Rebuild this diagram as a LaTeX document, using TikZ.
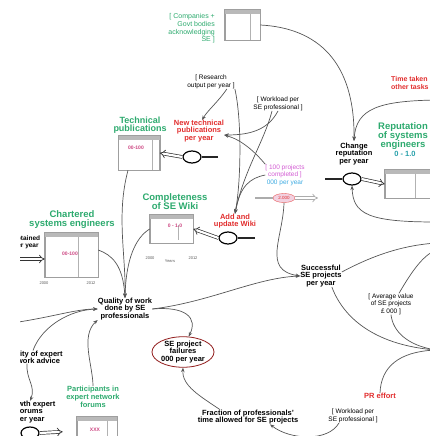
\documentclass[tikz,border=0pt]{standalone}
\usepackage{fontspec}
\setmainfont{Liberation Sans}
\usetikzlibrary{arrows.meta,shapes.geometric}
\definecolor{sdgreen}{RGB}{45,170,110}
\definecolor{sdred}{RGB}{225,45,45}
\definecolor{sdpink}{RGB}{205,70,130}
\definecolor{sdmag}{RGB}{210,90,210}
\definecolor{sdcyan}{RGB}{60,170,225}
\definecolor{sdteal}{RGB}{40,160,170}
\definecolor{lk}{RGB}{85,85,85}
\begin{document}
\begin{tikzpicture}[x=1pt,y=-1pt,
  lab/.style={font=\fontsize{7.5}{7.3}\selectfont\bfseries, align=center, inner sep=0pt},
  rlab/.style={lab, text=sdred},
  klab/.style={font=\fontsize{6.5}{7.5}\selectfont, align=center, inner sep=0pt},
  glab/.style={font=\fontsize{9.5}{9}\selectfont\bfseries, align=center, inner sep=0pt, text=sdgreen},
  numtxt/.style={font=\fontsize{5}{5}\selectfont\bfseries, text=sdpink, inner sep=0pt},
  ticktxt/.style={font=\fontsize{4}{4}\selectfont, text=gray!70!black, inner sep=0pt},
  stockbox/.style={draw=gray!75, fill=white, line width=0.6pt, inner sep=0pt},
  valve/.style={ellipse, draw=black, line width=1.2pt, fill=white, minimum width=18pt, minimum height=12pt, inner sep=0pt},
  link/.style={draw=lk, line width=0.7pt, -{Stealth[length=4.5pt,width=3.5pt]}},
  pipe/.style={draw=black!85, line width=1.4pt},
  flowin/.style={draw=black!80, double=white, double distance=2.2pt, line width=0.7pt, -{Implies}},
]
\useasboundingbox (0,0) rectangle (430,436);
\clip (20,0) rectangle (430,436);

% ---------- coordinates for off-picture ends ----------
\coordinate (ttc) at (436,100);
\coordinate (rpo) at (436,222);
\coordinate (chs) at (325,179);
\coordinate (pvs) at (255,198);
\coordinate (pve) at (318,198);
\coordinate (cv) at (436,350);
\coordinate (avr) at (436,250);
\coordinate (sr) at (436,243);
\coordinate (nts) at (218,157);
\coordinate (aws) at (255,238);
\coordinate (cis) at (5,259);
\coordinate (lft) at (5,324);
\coordinate (gvs) at (5,433);

% ---------- nodes ----------
\node[klab, text=sdgreen, anchor=east, align=right, font=\fontsize{7}{7.7}\selectfont] (comp) at (215,28.5) {[ Companies +\\Govt bodies\\acknowledging\\SE ]};
\node[stockbox, minimum width=35pt, minimum height=30pt] (compb) at (242.5,25) {};

\node[rlab, font=\fontsize{7}{7.5}\selectfont\bfseries, anchor=west, align=left] (tt) at (391,83) {Time taken\\other tasks};
\node[lab] (chg) at (354,154) {Change\\reputation\\per year};
\node[valve] (chv) at (352,179) {};
\node[glab] (repl) at (403,136) {Reputation\\of systems\\engineers};
\node[lab, text=sdteal] (repr) at (405,154) {0 - 1.0};
\node[stockbox, minimum width=55pt, minimum height=28pt] (repb) at (412.5,184) {};

\node[klab] (pc) at (285,175) {\textcolor{sdmag}{[ 100 projects}\\\textcolor{sdmag}{completed ]}\\\textcolor{sdcyan}{000 per year}};
\node[ellipse, draw=sdred!80, fill=sdpink!25, minimum width=22pt, minimum height=9pt, inner sep=0pt, font=\fontsize{4.5}{5}\selectfont, text=sdred] (pv) at (284,198) {2.000};
\node[lab] (succ) at (321,276) {Successful\\SE projects\\per year};

\node[klab] (res) at (211,82) {[ Research\\output per year ]};
\node[klab] (wl1) at (278,104) {[ Workload per\\SE professional ]};

\node[glab, font=\fontsize{9}{8.5}\selectfont\bfseries] (tpl) at (140,125) {Technical\\publications};
\node[stockbox, minimum width=41pt, minimum height=34pt] (tpb) at (139,153) {};
\node[rlab] (ntl) at (199,131) {New technical\\publications\\per year};
\node[valve] (ntv) at (192,157) {};

\node[glab] (cpl) at (175,202) {Completeness\\of SE Wiki};
\node[stockbox, minimum width=43pt, minimum height=28pt] (cpb) at (171.5,229) {};
\node[rlab] (awl) at (235,221) {Add and\\update Wiki};
\node[valve] (awv) at (228,238) {};

\node[glab] (chl) at (72,220) {Chartered\\systems engineers};
\node[stockbox, minimum width=53pt, minimum height=44pt] (chb) at (71.5,255) {};
\node[lab, font=\fontsize{6.5}{7}\selectfont\bfseries] (cin) at (26,242) {Obtained\\per year};

\node[lab] (qual) at (125,309) {Quality of work\\done by SE\\professionals};
\node[ellipse, draw=sdred!65!black, line width=0.8pt, fill=white, inner sep=0pt, minimum width=62pt, minimum height=27pt, lab] (fail) at (183,352) {SE project\\failures\\000 per year};
\node[lab] (frac) at (248,417) {Fraction of professionals'\\time allowed for SE projects};
\node[klab] (wl2) at (353,416) {[ Workload per\\SE professional ]};
\node[klab] (avg) at (391,304) {[ Average value\\of SE projects\\£ 000 ]};
\node[rlab] (pr) at (380,396) {PR effort};

\node[lab] (qea) at (33,357) {Quality of expert\\network advice};
\node[lab] (gel) at (30,412) {Growth expert\\forums\\per year};
\node[valve] (gv) at (30,433) {};
\node[glab, font=\fontsize{7.5}{8}\selectfont\bfseries] (ppl) at (93,397) {Participants in\\expert network\\forums};
\node[stockbox, minimum width=40pt, minimum height=28pt] (ppb) at (97,431) {};

% ---------- stock decorations ----------
\foreach \b/\d in {compb/10, repb/25, tpb/8, chb/20, ppb/10}{
  \fill[gray!55] (\b.north west) rectangle ([yshift=-4pt]\b.north east);
  \draw[gray!75, line width=0.6pt] (\b.north west) rectangle (\b.south east);
  \draw[gray!60, line width=0.5pt] ([xshift=-\d pt,yshift=-4pt]\b.north east) -- ([xshift=-\d pt]\b.south east);
}
\fill[gray!55] (cpb.north west) rectangle ([yshift=-4pt]cpb.north east);
\draw[gray!75, line width=0.6pt] (cpb.north west) rectangle (cpb.south east);
\draw[gray!60, line width=0.5pt] ([xshift=-15pt,yshift=-10pt]cpb.north east) -- ([xshift=-15pt,yshift=3pt]cpb.south east);

\node[numtxt] (tpv) at (136,148) {00-100};
\node[numtxt] (cpv) at (175,226) {0 - 1.0};
\node[numtxt] (chv2) at (70,254) {00-100};
\node[numtxt] (ppv) at (95,430) {XXX};
\node[ticktxt] (ct1) at (150,258) {2000};
\node[ticktxt] (ct2) at (170,261) {Years};
\node[ticktxt] (ct3) at (193,258) {2012};
\node[ticktxt] (hb1) at (44,283) {2000};
\node[ticktxt] (hb2) at (91,283) {2012};

% ---------- flows ----------
\draw[pipe] (chs) -- (chv.west);
\draw[flowin] (chv.east) -- (repb.west);
\draw[pipe] (nts) -- (ntv.east);
\draw[flowin] (ntv.west) -- (tpb.east);
\draw[pipe] (aws) -- (awv.east);
\draw[flowin] (awv.west) -- (cpb.east);
\draw[flowin] (cis) -- ([yshift=-4pt]chb.west);
\draw[pipe] (gvs) -- (gv.west);
\draw[flowin, shorten >=14pt] (gv.east) -- (ppb.west);
\draw[gray!65, line width=1.4pt] (pvs) -- (pv.west);
\draw[flowin, draw=gray!65] (pv.east) -- (pve);

% ---------- links ----------
\draw[link] (compb.east) .. controls (318,28) and (355,62) .. ([yshift=2pt]chg.north);
\draw[link] (ttc) .. controls (380,101) and (356,108) .. ([yshift=2pt]chg.north);
\draw[link] (rpo) .. controls (368,222) and (353,214) .. (chv.south);

\draw[link] (pv.south) .. controls (283,238) and (262,270) .. (succ.west);
\draw[link] (qual.east) .. controls (210,302) and (255,278) .. (succ.west);
\draw[link] ([yshift=4pt]succ.east) .. controls (372,256) and (400,246) .. (sr);
\draw[link] ([xshift=-10pt]succ.south east) .. controls (345,322) and (380,345) .. (cv);
\draw[link] (avg.south) .. controls (393,332) and (408,345) .. (cv);
\draw[link] (pr.north) .. controls (381,366) and (400,352) .. (cv);
\draw[link] ([xshift=8pt]avg.north) .. controls (408,278) and (420,258) .. (avr);

\draw[link] (qual.east) .. controls (186,306) and (198,318) .. (fail.70);
\draw[link] ([xshift=-28pt]frac.north) .. controls (200,396) and (182,386) .. (fail.south);
\draw[link] ([xshift=-14pt]wl2.south) .. controls (328,442) and (290,440) .. ([xshift=22pt]frac.south);

\draw[link] (res.south east) .. controls (242,120) and (241,182) .. (awl.north);
\draw[link] ([xshift=-8pt]res.south east) .. controls (218,102) and (208,110) .. ([xshift=3pt]ntl.north);
\draw[link] (wl1.south) .. controls (268,130) and (250,135) .. ([yshift=-4pt]ntl.east);
\draw[link] ([xshift=-6pt]wl1.south) .. controls (264,142) and (244,170) .. (awl.north);
\draw[link] (pc.north west) .. controls (255,152) and (242,140) .. ([yshift=-4pt]ntl.east);
\draw[link] (pc.west) .. controls (250,178) and (240,186) .. (awl.north);

\draw[link] ([xshift=-11pt]tpb.south) .. controls (116,215) and (126,255) .. (qual.north);
\draw[link] ([yshift=5pt]chb.east) .. controls (112,255) and (123,265) .. (qual.north);
\draw[link] (cpb.west) .. controls (135,238) and (126,260) .. (qual.north);
\draw[link] (lft) .. controls (50,318) and (75,309) .. (qual.west);
\draw[link] (qea.north) .. controls (42,326) and (70,310) .. (qual.west);
\draw[link] (ppl.north) .. controls (93,366) and (80,336) .. (qual.south west);
\draw[link] ([xshift=-6pt]qea.south) .. controls (26,380) and (36,386) .. (gel.north);
\end{tikzpicture}
\end{document}
